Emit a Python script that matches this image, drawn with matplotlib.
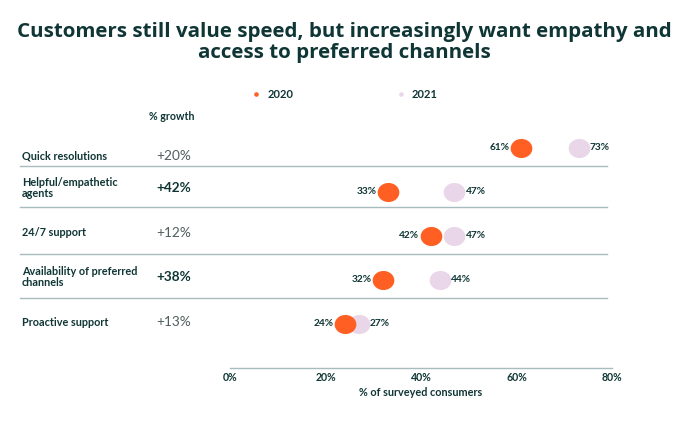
import matplotlib
matplotlib.use("Agg")
import numpy as np
import matplotlib.pyplot as plt
from matplotlib.transforms import blended_transform_factory
from matplotlib.lines import Line2D
from matplotlib.path import Path

categories = ["Quick resolutions", "Helpful/empathetic\nagents", "24/7 support",
              "Availability of preferred\nchannels", "Proactive support"]
growth = ["+20%", "+42%", "+12%", "+38%", "+13%"]
growth_bold = [False, True, False, True, False]
v2020 = [61, 33, 42, 32, 24]
v2021 = [73, 47, 47, 44, 27]
xticks = [0, 20, 40, 60, 80]
xticklabels = ["0%", "20%", "40%", "60%", "80%"]
title_lines = ["Customers still value speed, but increasingly want empathy and",
               "access to preferred channels"]

ORANGE = "#FF5F22"
LAV = "#E9D6E8"
DARK = "#0F3535"
GRAY = "#4F5E5E"
LINE = "#A8BBBF"
FONT = "Lato"
TFONT = "Open Sans"

W, H = 700, 421
fig = plt.figure(figsize=(W / 100, H / 100), dpi=100)


def fy(px):
    return 1 - px / H


# axes: x 0..80 -> px 230..612 ; rows at px 148 + 44*i
x0, x1 = 230, 612
ytop_px, ybot_px = 126, 368
ax = fig.add_axes([x0 / W, fy(ybot_px), (x1 - x0) / W, (ybot_px - ytop_px) / H])
ax.set_xlim(0, 80)
row0, step = 148, 44
ax.set_ylim((ybot_px - row0) / step, (ytop_px - row0) / step)

# slightly wide ellipse marker (as in reference)
t = np.linspace(0, 2 * np.pi, 80)
ell = Path(np.column_stack([np.cos(t), 0.88 * np.sin(t)]), closed=True)

ys = list(range(len(categories)))
msz = 15.6  # points -> ~21.7 px wide
ax.plot(v2021, ys, linestyle="none", marker=ell, markersize=msz, color=LAV,
        markeredgewidth=0, zorder=3)
ax.plot(v2020, ys, linestyle="none", marker=ell, markersize=msz, color=ORANGE,
        markeredgewidth=0, zorder=4)

for y, a, b in zip(ys, v2020, v2021):
    ax.text(a - 2.35, y, f"{a}%", ha="right", va="center", fontsize=7.3, fontweight="bold",
            color=DARK, family=FONT)
    ax.text(b + 2.35, y, f"{b}%", ha="left", va="center", fontsize=7.3, fontweight="bold",
            color=DARK, family=FONT)

for s in ["top", "right", "left"]:
    ax.spines[s].set_visible(False)
ax.spines["bottom"].set_color(LINE)
ax.spines["bottom"].set_linewidth(1.0)
ax.set_yticks([])
ax.set_xticks(xticks)
ax.set_xticklabels(xticklabels, fontsize=7.6, fontweight="bold", color=DARK, family=FONT)
ax.tick_params(axis="x", length=0, pad=3)
ax.set_xlabel("% of surveyed consumers", fontsize=7.8, fontweight="bold", color=DARK,
              family=FONT, labelpad=3)

bt = blended_transform_factory(fig.transFigure, ax.transData)
# per-row vertical nudges of the left-hand text (pixels, + = down)
text_nudge = [8, -4, -3, -3, -2]
sep_offset = [18, 15, 18, 18]
for i, (cat, g, gb) in enumerate(zip(categories, growth, growth_bold)):
    yy = i + text_nudge[i] / step
    ax.text(22 / W, yy, cat, transform=bt, ha="left", va="center", fontsize=7.8,
            fontweight="bold", color=DARK, family=FONT, linespacing=1.0)
    ax.text(156 / W, yy, g, transform=bt, ha="left", va="center", fontsize=9.8,
            fontweight="bold" if gb else "normal", color=DARK if gb else GRAY, family=FONT)

for i in range(len(categories) - 1):
    yy = i + sep_offset[i] / step
    ax.add_line(Line2D([20 / W, 607 / W], [yy, yy], transform=bt, color=LINE,
                       linewidth=1.0, clip_on=False))

fig.text(149 / W, fy(116), "% growth", ha="left", va="center", fontsize=7.7,
         fontweight="bold", color=DARK, family=FONT)

# legend
fig.add_artist(Line2D([256 / W], [fy(94)], marker="o", markersize=3.3, color=ORANGE,
                      markeredgewidth=0, linestyle="none"))
fig.text(268 / W, fy(94), "2020", ha="left", va="center", fontsize=8,
         fontweight="bold", color=DARK, family=FONT)
fig.add_artist(Line2D([401 / W], [fy(94)], marker="o", markersize=3.3, color=LAV,
                      markeredgewidth=0, linestyle="none"))
fig.text(412 / W, fy(94), "2021", ha="left", va="center", fontsize=8,
         fontweight="bold", color=DARK, family=FONT)

# title: two lines, fitted to the reference width
t1 = fig.text(344.5 / W, fy(37), title_lines[0], ha="center", va="baseline",
              fontsize=15, fontweight="bold", color=DARK, family=TFONT)
r = fig.canvas.get_renderer()
wpx = t1.get_window_extent(r).width
fs = 15 * 655 / wpx
t1.set_fontsize(fs)
fig.text(344.5 / W, fy(58), title_lines[1], ha="center", va="baseline",
         fontsize=fs, fontweight="bold", color=DARK, family=TFONT)

fig.savefig("out.png", dpi=100, facecolor="white")
